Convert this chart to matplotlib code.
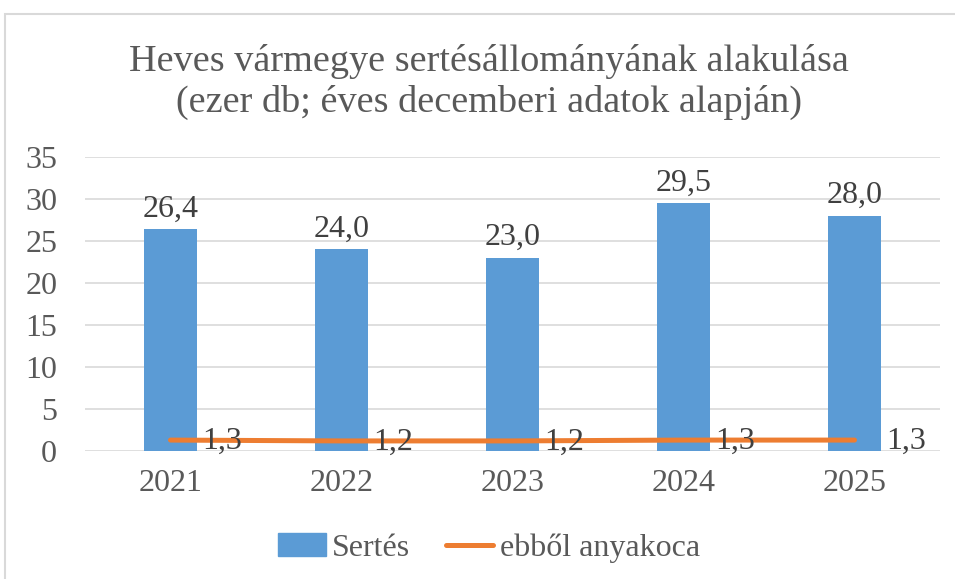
import matplotlib.pyplot as plt
from matplotlib.patches import Rectangle, Patch
from matplotlib.lines import Line2D

years = ['2021', '2022', '2023', '2024', '2025']
sertes = [26.4, 24.0, 23.0, 29.5, 28.0]
anyakoca = [1.3, 1.2, 1.2, 1.3, 1.3]

blue = '#5B9BD5'
orange = '#ED7D31'
txt = '#595959'

plt.rcParams['font.family'] = ['Liberation Serif', 'DejaVu Serif']

fig = plt.figure(figsize=(9.55, 5.79), dpi=100)
# chart frame (cut off on right and bottom like the reference)
fig.patches.append(Rectangle((5 / 955, -0.05), 1.0, 1 - 14 / 579 + 0.05,
                             transform=fig.transFigure, fill=False,
                             edgecolor='#D9D9D9', lw=1.5))

ax = fig.add_axes([85 / 955, 1 - 451 / 579, 855 / 955, 294 / 579])
x = range(len(years))
ax.bar(x, sertes, width=0.31, color=blue, zorder=2)
ax.plot(x, anyakoca, color=orange, lw=3.6, solid_capstyle='round', zorder=3)

for i, v in enumerate(sertes):
    ax.annotate(f'{v:.1f}'.replace('.', ','), (i, v), xytext=(0, 4),
                textcoords='offset points', ha='center', va='bottom',
                fontsize=23, color='#404040')
for i, v in enumerate(anyakoca):
    ax.annotate(f'{v:.1f}'.replace('.', ','), (i, v), xytext=(23, -1),
                textcoords='offset points', ha='left', va='center',
                fontsize=23, color='#404040', zorder=4)

ax.set_xlim(-0.5, 4.5)
ax.set_ylim(0, 35)
ax.set_yticks(range(0, 36, 5))
ax.set_xticks(list(x))
ax.set_xticklabels(years)
ax.grid(axis='y', color='#D9D9D9', lw=1.2, zorder=0)
ax.set_axisbelow(True)
for s in ax.spines.values():
    s.set_visible(False)
ax.tick_params(length=0, labelsize=23, labelcolor=txt)
ax.tick_params(axis='y', pad=20)
ax.tick_params(axis='x', pad=13)

fig.text(489 / 955, 1 - 82 / 579,
         'Heves vármegye sertésállományának alakulása\n(ezer db; éves decemberi adatok alapján)',
         ha='center', va='center', fontsize=27.5, color=txt, linespacing=1.2)

handles = [Patch(color=blue, label='Sertés'),
           Line2D([], [], color=orange, lw=3.6, solid_capstyle='round', label='ebből anyakoca')]
fig.legend(handles=handles, loc='center', bbox_to_anchor=(489 / 955, 1 - 548 / 579),
           ncol=2, frameon=False, fontsize=23, labelcolor=txt,
           handlelength=1.5, handletextpad=0.2, columnspacing=1.1)

fig.savefig('out.png', dpi=100)
